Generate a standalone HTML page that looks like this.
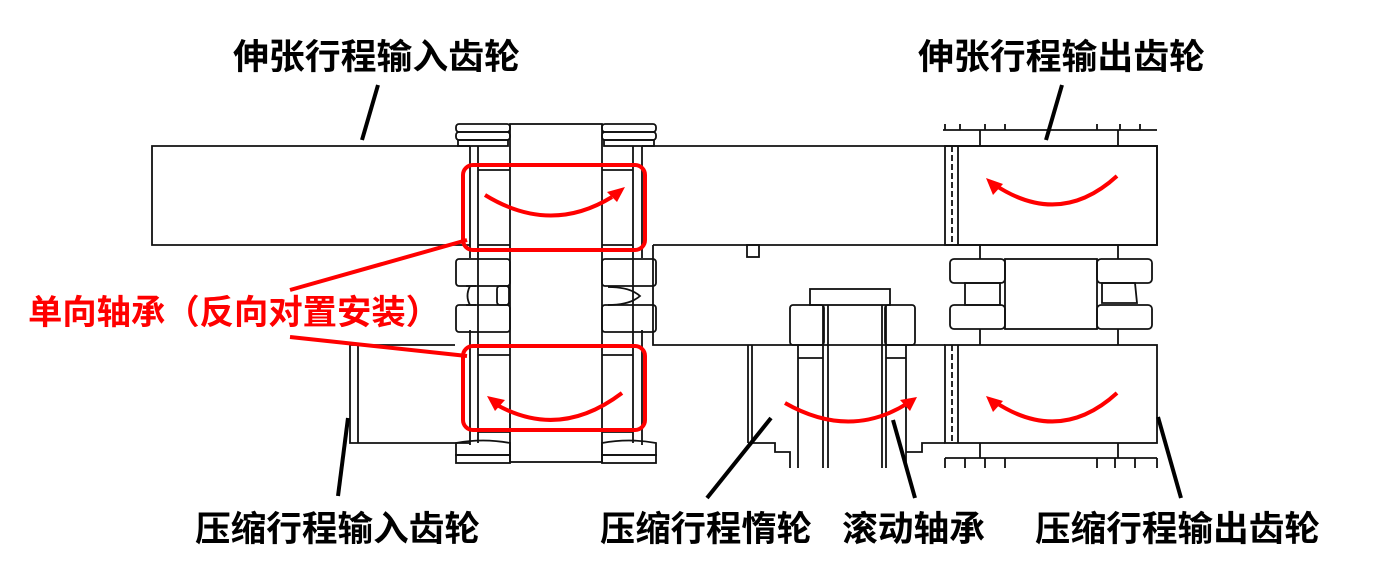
<!DOCTYPE html>
<html><head><meta charset="utf-8"><style>
html,body{margin:0;padding:0;background:#fff;}
svg{display:block}
text{font-family:"Liberation Sans","Noto Sans CJK SC",sans-serif;font-size:35px;font-weight:bold;}
</style></head><body>
<svg width="1380" height="585" viewBox="0 0 1380 585" xmlns="http://www.w3.org/2000/svg">
<g fill="none" stroke="#111" stroke-width="1.8">
<path d="M470 146 H152 V245 H470"/>
<path d="M455 345 H350 V443 H470"/>
<line x1="358" y1="345" x2="358" y2="443"/>
<rect x="510" y="124" width="92" height="338"/>
<line x1="478" y1="146" x2="478" y2="443"/><line x1="633" y1="146" x2="633" y2="443"/>
<line x1="470" y1="146" x2="470" y2="258"/><line x1="470" y1="330" x2="470" y2="445"/>
<line x1="642" y1="146" x2="642" y2="258"/><line x1="642" y1="330" x2="642" y2="445"/>
<line x1="478" y1="170" x2="510" y2="170"/><line x1="478" y1="245" x2="510" y2="245"/>
<line x1="602" y1="170" x2="633" y2="170"/><line x1="602" y1="245" x2="633" y2="245"/>
<line x1="478" y1="355" x2="510" y2="355"/><line x1="478" y1="432" x2="510" y2="432"/>
<line x1="602" y1="355" x2="633" y2="355"/><line x1="602" y1="432" x2="633" y2="432"/>
<rect x="456" y="124" width="54" height="8" rx="3"/><rect x="456" y="132" width="54" height="8" rx="3"/><rect x="458" y="140" width="50" height="6"/>
<rect x="602" y="124" width="54" height="8" rx="3"/><rect x="602" y="132" width="54" height="8" rx="3"/><rect x="604" y="140" width="50" height="6"/>
<path d="M456 443 Q483 438 510 443 V455 H456 Z"/><rect x="456" y="455" width="54" height="8"/>
<path d="M602 443 Q629 438 656 443 V455 H602 Z"/><rect x="602" y="455" width="54" height="8"/>
<rect x="456" y="259" width="54" height="27" rx="3"/><rect x="456" y="305" width="54" height="27" rx="3"/>
<path d="M470 286 Q465 296 470 305 M466 286 H476 M466 305 H476"/><rect x="497" y="286" width="12" height="19" rx="3"/>
<rect x="602" y="259" width="54" height="27" rx="3"/><rect x="602" y="305" width="54" height="27" rx="3"/>
<path d="M608 287 Q630 287 640 296 Q630 305 608 305"/>
<path d="M642 146 H1157 V245 H945 M653 245 H945 M653 245 V345 H790"/>
<rect x="747" y="245" width="12" height="12"/>
<rect x="945" y="146" width="212" height="99"/>
<line x1="958" y1="146" x2="958" y2="245"/><line x1="952" y1="146" x2="952" y2="245" stroke-dasharray="6 3"/>
<line x1="943" y1="130" x2="1157" y2="130"/>
<line x1="980" y1="130" x2="980" y2="146"/><line x1="1118" y1="130" x2="1118" y2="146"/>
<path d="M945 124 v6 M960 124 v6 M985 124 v6 M1005 124 v6 M1097 124 v6 M1120 124 v6 M1140 124 v6"/>
<line x1="980" y1="245" x2="980" y2="259"/><line x1="1118" y1="245" x2="1118" y2="259"/>
<rect x="950" y="259" width="55" height="24" rx="4"/><rect x="950" y="305" width="55" height="24" rx="4"/>
<rect x="1097" y="259" width="55" height="24" rx="4"/><rect x="1097" y="305" width="55" height="24" rx="4"/>
<rect x="1005" y="259" width="92" height="70"/>
<path d="M965 283 H1000 V305 H965 Z M1102 283 H1135 L1137 303 H1102 Z"/>
<line x1="980" y1="329" x2="980" y2="345"/><line x1="1118" y1="329" x2="1118" y2="345"/>
<rect x="945" y="345" width="212" height="98"/>
<line x1="958" y1="345" x2="958" y2="443"/><line x1="952" y1="345" x2="952" y2="443" stroke-dasharray="6 3"/>
<line x1="980" y1="443" x2="980" y2="458"/><line x1="1118" y1="443" x2="1118" y2="458"/>
<path d="M945 458 H1157 M945 458 v10 M965 458 v10 M985 458 v10 M1005 458 v10 M1097 458 v10 M1115 458 v10 M1135 458 v10 M1157 458 v10"/>
<rect x="810" y="289" width="80" height="16"/>
<rect x="790" y="305" width="34" height="40" rx="3"/><rect x="885" y="305" width="30" height="40" rx="3"/>
<line x1="823" y1="305" x2="823" y2="468"/><line x1="886" y1="305" x2="886" y2="468"/>
<line x1="828" y1="305" x2="828" y2="468"/><line x1="882" y1="305" x2="882" y2="468"/>
<path d="M798 345 V468 M906 345 V468 M798 358 H823 M886 358 H906"/>
<path d="M748 345 V443 M752 345 V443 M790 345 H945 M748 443 H775 V452 H790 V468 M906 452 H922 V443 H945"/>
</g>
<g fill="none" stroke="#f00" stroke-width="4">
<rect x="463" y="165" width="182" height="85" rx="10"/>
<rect x="463" y="346" width="182" height="84" rx="10"/>
<line x1="290" y1="290" x2="467" y2="240"/>
<line x1="290" y1="337" x2="467" y2="356"/>
<path d="M485 195 Q550 235 612 197"/>
<path d="M622 393 Q560 440 497 405"/>
<path d="M785 403 Q850 440 908 403"/>
<path d="M1117 176 Q1060 228 995 185"/>
<path d="M1117 393 Q1060 445 995 402"/>
</g>
<g fill="#f00">
<path d="M625 187 L607 192 L617 202 Z"/>
<path d="M487 396 L505 400 L495 411 Z"/>
<path d="M917 397 L900 400 L910 411 Z"/>
<path d="M986 178 L993 195 L1003 184 Z"/>
<path d="M986 396 L993 412 L1003 401 Z"/>
</g>
<g stroke="#000" stroke-width="4">
<line x1="378" y1="85" x2="362" y2="140"/>
<line x1="1062" y1="85" x2="1046" y2="140"/>
<line x1="348" y1="418" x2="338" y2="496"/>
<line x1="771" y1="418" x2="707" y2="498"/>
<line x1="893" y1="420" x2="915" y2="498"/>
<line x1="1158" y1="417" x2="1181" y2="498"/>
</g>
<text x="233" y="69" textLength="287" lengthAdjust="spacingAndGlyphs">伸张行程输入齿轮</text>
<text x="918" y="69" textLength="287" lengthAdjust="spacingAndGlyphs">伸张行程输出齿轮</text>
<text x="28" y="324" fill="#f00" style="font-size:34px" textLength="412" lengthAdjust="spacingAndGlyphs">单向轴承（反向对置安装）</text>
<text x="195" y="541" textLength="285" lengthAdjust="spacingAndGlyphs">压缩行程输入齿轮</text>
<text x="600" y="541" textLength="212" lengthAdjust="spacingAndGlyphs">压缩行程惰轮</text>
<text x="842" y="541" textLength="143" lengthAdjust="spacingAndGlyphs">滚动轴承</text>
<text x="1035" y="541" textLength="285" lengthAdjust="spacingAndGlyphs">压缩行程输出齿轮</text>
</svg>
</body></html>
